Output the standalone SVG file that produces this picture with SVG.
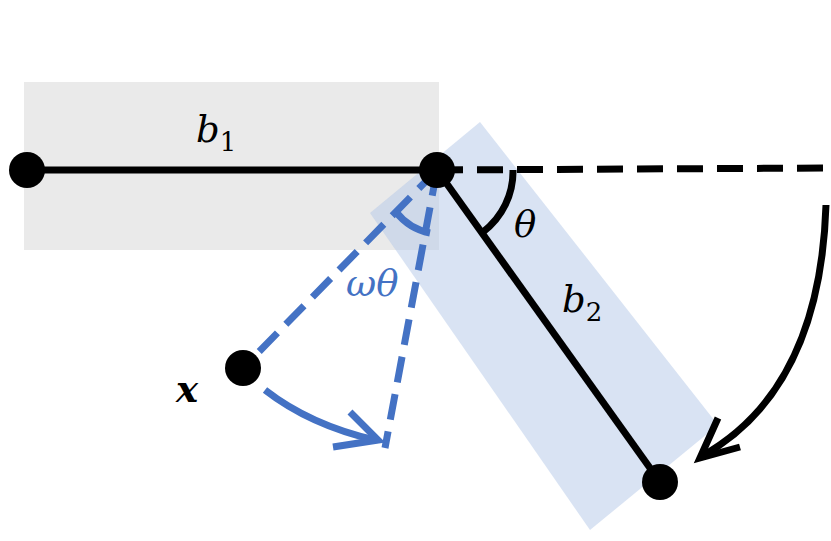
<svg xmlns="http://www.w3.org/2000/svg" width="831" height="541" viewBox="0 0 831 541">
<style>
.k{stroke:#000;stroke-width:7;fill:none}
.b{stroke:#4472C4;stroke-width:7;fill:none}
.t{font-family:"DejaVu Serif",serif;font-style:italic;font-size:37px}
.s{font-family:"DejaVu Serif",serif;font-size:26px;font-style:normal}
</style>
<g id="bars">
<rect x="24" y="82" width="415" height="168" fill="#D9D9D9" opacity="0.55"/>
<polygon points="480,122 370,213 590,530 718,425" fill="#B4C7E7" opacity="0.5"/>
</g>
<g id="connectors">
<line class="k" x1="27" y1="170" x2="437" y2="170"/>
<line class="k" x1="437" y1="170" x2="831" y2="168" stroke-dasharray="26,14"/>
<line class="k" x1="437" y1="170" x2="660" y2="482"/>
<path class="k" d="M513,170 A76,76 0 0 1 483,232"/>
<path class="k" d="M826,205 Q820,390 702,456"/>
<path class="k" d="M718,418 L700,458 L740,447"/>
<line class="b" x1="437" y1="170" x2="243" y2="368" stroke-dasharray="26,12"/>
<line class="b" x1="437" y1="170" x2="385" y2="448" stroke-dasharray="26,12"/>
<path class="b" d="M396,212 A58,58 0 0 0 430,233"/>
<path class="b" d="M265,390 Q310,425 375,440"/>
<path class="b" d="M350,412 L378,440 L333,447"/>
</g>
<g id="nodes">
<circle id="n1" cx="27" cy="170" r="18"/>
<circle id="n2" cx="437" cy="170" r="18"/>
<circle id="n3" cx="660" cy="482" r="18"/>
<circle id="nx" cx="243" cy="368" r="18"/>
</g>
<g id="labels">
<text class="t" x="196" y="142">b<tspan class="s" dy="9">1</tspan></text>
<text class="t" x="562" y="312">b<tspan class="s" dy="9">2</tspan></text>
<text class="t" x="514" y="237">θ</text>
<text class="t" x="346" y="296" fill="#4472C4">ωθ</text>
<text class="t" x="176" y="402" font-weight="bold">x</text>
</g>
</svg>
